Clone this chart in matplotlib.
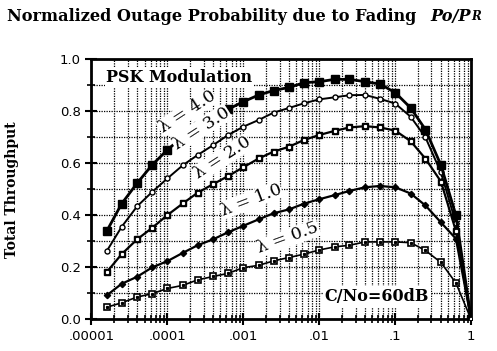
import matplotlib
matplotlib.use("Agg")
import matplotlib.pyplot as plt
from matplotlib.ticker import LogLocator, NullFormatter, MultipleLocator

# ---------------- data ----------------
x = [0.000016, 0.000025, 0.00004, 0.000063, 0.0001, 0.00016, 0.00025, 0.0004,
     0.00063, 0.001, 0.0016, 0.0025, 0.004, 0.0063, 0.01, 0.016, 0.025, 0.04,
     0.063, 0.1, 0.16, 0.25, 0.4, 0.63, 1.0]

lam_05 = [0.047, 0.064, 0.086, 0.099, 0.119, 0.131, 0.152, 0.165, 0.177, 0.199,
          0.208, 0.225, 0.238, 0.251, 0.267, 0.279, 0.285, 0.298, 0.298, 0.298,
          0.295, 0.265, 0.219, 0.140, 0.0]
lam_10 = [0.093, 0.137, 0.164, 0.200, 0.224, 0.256, 0.285, 0.308, 0.335, 0.360,
          0.385, 0.408, 0.423, 0.445, 0.462, 0.478, 0.494, 0.508, 0.513, 0.508,
          0.484, 0.438, 0.373, 0.310, 0.0]
lam_20 = [0.183, 0.251, 0.308, 0.352, 0.401, 0.446, 0.487, 0.520, 0.551, 0.585,
          0.619, 0.645, 0.664, 0.690, 0.709, 0.725, 0.738, 0.743, 0.738, 0.726,
          0.685, 0.618, 0.530, 0.340, 0.0]
lam_30 = [0.264, 0.356, 0.435, 0.490, 0.542, 0.593, 0.632, 0.670, 0.709, 0.741,
          0.767, 0.795, 0.813, 0.831, 0.846, 0.854, 0.862, 0.863, 0.848, 0.830,
          0.779, 0.700, 0.565, 0.370, 0.0]
lam_40 = [0.341, 0.445, 0.524, 0.594, 0.652, 0.703, 0.743, 0.776, 0.808, 0.837,
          0.863, 0.880, 0.892, 0.910, 0.914, 0.923, 0.923, 0.914, 0.905, 0.872,
          0.813, 0.730, 0.593, 0.400, 0.0]

xticks = [0.00001, 0.0001, 0.001, 0.01, 0.1, 1]
xticklabels = [".00001", ".0001", ".001", ".01", ".1", "1"]
yticks = [0.0, 0.2, 0.4, 0.6, 0.8, 1.0]
yticklabels = ["0.0", "0.2", "0.4", "0.6", "0.8", "1.0"]

title_main = "Normalized Outage Probability due to Fading"
title_sym = "Po/P"
title_sub = "R"
ylabel = "Total Throughput"
curve_labels = ["λ = 4.0", "λ = 3.0", "λ = 2.0", "λ = 1.0", "λ = 0.5"]

# ---------------- figure ----------------
fig = plt.figure(figsize=(4.97, 3.51), dpi=100)
ax = fig.add_axes([0.184, 0.090, 0.764, 0.741])
ax.set_xscale("log")
ax.set_xlim(1e-5, 1)
ax.set_ylim(0, 1)

dot = (0, (1, 1))
ax.grid(True, which="major", axis="both", color="black", linestyle=dot, linewidth=0.9)
ax.grid(True, which="minor", axis="both", color="black", linestyle=dot, linewidth=0.9)
ax.set_axisbelow(True)

serif = "DejaVu Serif"

# curves
ax.plot(x, lam_05, color="black", lw=1.2, marker="s", ms=4.3, mfc="white", mec="black", mew=1.2, zorder=3)
ax.plot(x, lam_05, ls="none", marker="s", ms=1.3, color="black", zorder=4)
ax.plot(x, lam_10, color="black", lw=1.6, marker="D", ms=3.2, mfc="black", mec="black", zorder=3)
ax.plot(x, lam_20, color="black", lw=1.6, marker="s", ms=4.5, mfc="black", mec="black", zorder=3)
ax.plot(x, lam_20, ls="none", marker="s", ms=1.3, color="white", zorder=4)
ax.plot(x, lam_30, color="black", lw=1.4, marker="o", ms=3.6, mfc="white", mec="black", mew=1.0, zorder=3)
ax.plot(x, lam_40, color="black", lw=2.0, marker="s", ms=5.3, mfc="black", mec="black", zorder=3)

# ticks
ax.set_xticks(xticks)
ax.set_xticklabels(xticklabels)
ax.xaxis.set_minor_locator(LogLocator(base=10, subs=[2, 3, 4, 5, 6, 7, 8, 9], numticks=20))
ax.xaxis.set_minor_formatter(NullFormatter())
ax.set_yticks(yticks)
ax.set_yticklabels(yticklabels)
ax.yaxis.set_minor_locator(MultipleLocator(0.1))
ax.tick_params(which="major", direction="inout", length=9, width=1.5, labelsize=9.5, pad=3)
ax.tick_params(which="minor", direction="inout", length=6, width=1.2)
for lab in ax.get_xticklabels() + ax.get_yticklabels():
    lab.set_fontfamily("DejaVu Sans")
for s in ax.spines.values():
    s.set_linewidth(2.0)

# labels on curves
bbox = dict(facecolor="white", edgecolor="none", pad=0.3)
label_pos = [(0.252, 0.797, 33), (0.289, 0.735, 33), (0.344, 0.620, 33),
             (0.420, 0.459, 21), (0.518, 0.313, 20)]
for txt, (px, py, rot) in zip(curve_labels, label_pos):
    ax.text(px, py, txt, transform=ax.transAxes, rotation=rot, ha="center", va="center",
            fontsize=12.5, family=serif, bbox=bbox, zorder=5, rotation_mode="anchor")

ax.text(0.231, 0.931, "PSK Modulation", transform=ax.transAxes, ha="center", va="center",
        fontsize=11.5, family=serif, weight="bold", bbox=dict(facecolor="white", edgecolor="none", pad=1.0), zorder=5)
ax.text(0.752, 0.089, "C/No=60dB", transform=ax.transAxes, ha="center", va="center",
        fontsize=11.5, family=serif, weight="bold", bbox=dict(facecolor="white", edgecolor="none", pad=1.5), zorder=5)

# title
fig.text(0.014, 0.952, title_main, ha="left", va="center", fontsize=11.6, family=serif, weight="bold")
t_sym = fig.text(0.866, 0.952, title_sym, ha="left", va="center", fontsize=11.6, family=serif,
                 weight="bold", style="italic")
renderer = fig.canvas.get_renderer()
bb = t_sym.get_window_extent(renderer)
fig.text(bb.x1 / fig.bbox.width, bb.y0 / fig.bbox.height + 0.008, title_sub, ha="left", va="bottom",
         fontsize=8.5, family=serif, weight="bold", style="italic")

fig.text(0.024, 0.46, ylabel, rotation=90, ha="center", va="center", fontsize=10, family=serif, weight="bold")

fig.savefig("out.png", dpi=100)
